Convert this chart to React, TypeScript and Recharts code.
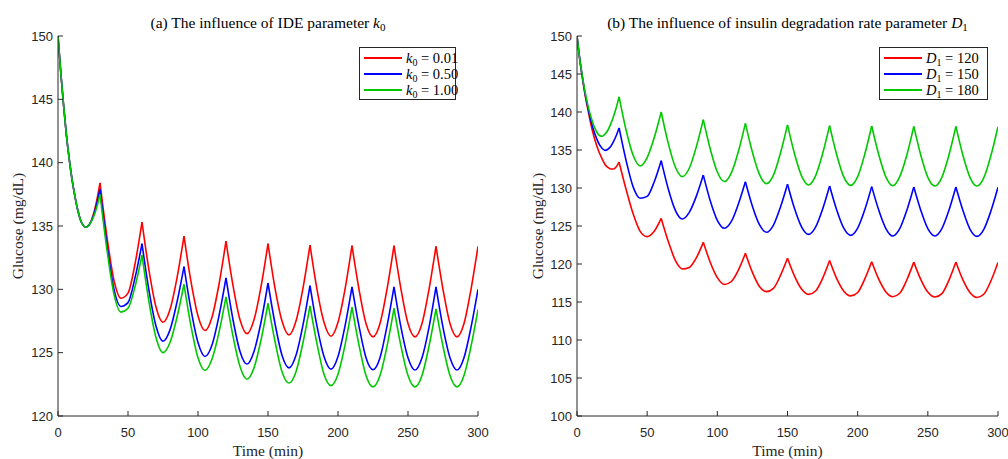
import React from 'react';
import { LineChart, Line, XAxis, YAxis } from 'recharts';

// ---------- data ----------
const TIMES = [
  0, 2, 4, 6, 8, 10, 12, 14, 16, 18, 20, 22, 24, 26, 28, 30,
  35, 40, 45, 50, 55, 60, 65, 70, 75, 80, 85, 90, 95, 100, 105, 110, 115, 120,
  125, 130, 135, 140, 145, 150, 155, 160, 165, 170, 175, 180, 185, 190, 195, 200,
  205, 210, 215, 220, 225, 230, 235, 240, 245, 250, 255, 260, 265, 270, 275, 280,
  285, 290, 295, 300,
];

// (a) k0 variations
const K0_001 = [
  150, 147.1, 144.5, 142.2, 140.3, 138.7, 137.4, 136.3, 135.5, 135.05, 134.9, 135.07, 135.5, 136.2, 137.2, 138.4,
  134.1, 130.7, 129.3, 129.7, 132.0, 135.3,
  131.5, 128.6, 127.4, 128.4, 130.9, 134.2,
  130.6, 127.9, 126.75, 127.8, 130.4, 133.8,
  130.3, 127.6, 126.5, 127.6, 130.2, 133.6,
  130.1, 127.5, 126.4, 127.5, 130.1, 133.5,
  130.0, 127.4, 126.3, 127.4, 130.0, 133.45,
  130.0, 127.3, 126.25, 127.3, 130.0, 133.45,
  130.0, 127.3, 126.25, 127.3, 130.0, 133.4,
  130.0, 127.3, 126.25, 127.3, 130.0, 133.4,
];
const K0_050 = [
  150, 147.1, 144.5, 142.2, 140.3, 138.7, 137.4, 136.3, 135.5, 135.05, 134.9, 135.06, 135.45, 136.05, 136.9, 137.9,
  133.5, 130.0, 128.65, 128.95, 130.9, 133.6,
  129.9, 127.1, 125.9, 126.8, 129.0, 131.8,
  128.4, 125.8, 124.7, 125.6, 127.9, 130.9,
  127.6, 125.1, 124.1, 125.1, 127.4, 130.5,
  127.3, 124.8, 123.8, 124.8, 127.2, 130.3,
  127.1, 124.7, 123.7, 124.7, 127.1, 130.2,
  127.1, 124.6, 123.65, 124.6, 127.1, 130.2,
  127.0, 124.6, 123.63, 124.6, 127.0, 130.2,
  127.0, 124.6, 123.63, 124.6, 127.0, 130.0,
];
const K0_100 = [
  150, 147.1, 144.5, 142.2, 140.3, 138.7, 137.4, 136.3, 135.5, 135.05, 134.9, 135.05, 135.4, 135.9, 136.6, 137.5,
  133.1, 129.6, 128.2, 128.5, 130.2, 132.7,
  129.0, 126.2, 125.0, 125.8, 127.8, 130.4,
  127.1, 124.6, 123.6, 124.5, 126.6, 129.4,
  126.3, 123.9, 122.9, 123.8, 126.0, 128.9,
  125.9, 123.5, 122.6, 123.5, 125.8, 128.7,
  125.7, 123.3, 122.4, 123.3, 125.6, 128.6,
  125.6, 123.2, 122.3, 123.2, 125.5, 128.5,
  125.5, 123.2, 122.3, 123.2, 125.5, 128.45,
  125.5, 123.2, 122.3, 123.2, 125.5, 128.4,
];

// (b) D1 variations
const D1_120 = [
  150, 146.9, 144.3, 142.0, 140.1, 138.3, 136.8, 135.6, 134.6, 133.8, 133.1, 132.7, 132.5, 132.5, 132.8, 133.4,
  129.8, 126.6, 124.3, 123.6, 124.3, 126.0,
  123.0, 120.5, 119.35, 119.55, 120.8, 122.85,
  120.2, 118.2, 117.3, 117.7, 119.2, 121.4,
  118.9, 117.05, 116.37, 116.8, 118.5, 120.75,
  118.4, 116.7, 116.0, 116.45, 118.1, 120.45,
  118.1, 116.45, 115.8, 116.25, 118.0, 120.3,
  118.0, 116.35, 115.7, 116.15, 117.9, 120.25,
  117.95, 116.3, 115.65, 116.1, 117.85, 120.25,
  117.9, 116.25, 115.6, 116.05, 117.8, 120.2,
];
const D1_150 = [
  150, 146.9, 144.4, 142.2, 140.4, 138.8, 137.5, 136.5, 135.7, 135.2, 134.95, 135.1, 135.45, 136.1, 136.9, 137.9,
  133.6, 130.15, 128.65, 128.9, 130.8, 133.6,
  129.9, 127.1, 125.92, 126.8, 128.9, 131.7,
  128.3, 125.75, 124.7, 125.6, 127.9, 130.83,
  127.6, 125.17, 124.17, 125.12, 127.5, 130.5,
  127.3, 124.9, 123.9, 124.85, 127.2, 130.26,
  127.15, 124.75, 123.77, 124.73, 127.1, 130.18,
  127.1, 124.7, 123.68, 124.65, 127.05, 130.13,
  127.05, 124.65, 123.68, 124.65, 127.05, 130.13,
  127.05, 124.6, 123.64, 124.6, 127.0, 130.09,
];
const D1_180 = [
  150, 146.9, 144.5, 142.4, 140.7, 139.3, 138.2, 137.4, 136.9, 136.8, 137.1, 137.6, 138.4, 139.4, 140.6, 142.0,
  137.6, 134.3, 132.9, 134.0, 136.6, 140.0,
  135.9, 132.8, 131.5, 132.6, 135.4, 139.0,
  135.1, 132.1, 130.85, 132.0, 134.8, 138.5,
  134.7, 131.8, 130.57, 131.7, 134.6, 138.3,
  134.5, 131.6, 130.4, 131.6, 134.5, 138.2,
  134.4, 131.5, 130.35, 131.5, 134.4, 138.16,
  134.4, 131.5, 130.3, 131.5, 134.3, 138.1,
  134.3, 131.4, 130.26, 131.4, 134.3, 138.1,
  134.3, 131.4, 130.26, 131.4, 134.3, 138.07,
];

const X_TICKS = [0, 50, 100, 150, 200, 250, 300];
const LEFT_Y_TICKS = [120, 125, 130, 135, 140, 145, 150];
const RIGHT_Y_TICKS = [100, 105, 110, 115, 120, 125, 130, 135, 140, 145, 150];
const MEAL_TIMES = [0, 30, 60, 90, 120, 150, 180, 210, 240, 270, 300];

const LEFT_LABELS = ['0.01', '0.50', '1.00'];
const RIGHT_LABELS = ['120', '150', '180'];
const COLORS = ['#ff0000', '#0000ff', '#00c800'];

const leftData = TIMES.map((t, i) => ({ t, s0: K0_001[i], s1: K0_050[i], s2: K0_100[i] }));
const rightData = TIMES.map((t, i) => ({ t, s0: D1_120[i], s1: D1_150[i], s2: D1_180[i] }));

// ---------- styles ----------
const AX = '#262626';
const SANS = '"Liberation Sans", Arial, Helvetica, sans-serif';
const SERIF = '"Liberation Serif", "Times New Roman", serif';
const tickStyle = { fill: AX, fontSize: 13, fontFamily: SANS };

const segKey = (key: string, lo: number, hi: number) => (d: any) =>
  d.t >= lo && d.t <= hi ? d[key] : null;

function Panel({ data, yDomain, yTicks, width, marginLeft, marginRight }: any) {
  const lines: any[] = [];
  ['s0', 's1', 's2'].forEach((key, si) => {
    for (let k = 0; k < MEAL_TIMES.length - 1; k++) {
      lines.push(
        <Line
          key={key + '-' + k}
          xAxisId="b"
          yAxisId="l"
          dataKey={segKey(key, MEAL_TIMES[k], MEAL_TIMES[k + 1])}
          type="monotone"
          stroke={COLORS[si]}
          strokeWidth={1.6}
          dot={false}
          activeDot={false}
          connectNulls={false}
          isAnimationActive={false}
        />
      );
    }
  });
  return (
    <LineChart
      width={width}
      height={459}
      data={data}
      margin={{ top: 36, right: marginRight, bottom: 0, left: marginLeft }}
    >
      <XAxis
        xAxisId="b"
        type="number"
        dataKey="t"
        domain={[0, 300]}
        ticks={X_TICKS}
        interval={0}
        tickSize={-5}
        tickMargin={17}
        height={43}
        stroke={AX}
        tick={tickStyle}
        allowDataOverflow
      />
      <XAxis
        xAxisId="t"
        orientation="top"
        type="number"
        dataKey="t"
        domain={[0, 300]}
        ticks={X_TICKS}
        interval={0}
        tickSize={-5}
        height={0}
        stroke={AX}
        tick={false}
        allowDataOverflow
      />
      <YAxis
        yAxisId="l"
        type="number"
        domain={yDomain}
        ticks={yTicks}
        interval={0}
        tickSize={-5}
        tickMargin={10}
        width={50}
        stroke={AX}
        tick={tickStyle}
        allowDataOverflow
      />
      <YAxis
        yAxisId="r"
        orientation="right"
        type="number"
        domain={yDomain}
        ticks={yTicks}
        interval={0}
        tickSize={-5}
        width={0}
        stroke={AX}
        tick={false}
        allowDataOverflow
      />
      {lines}
    </LineChart>
  );
}

function Legend({ left, top, width, sym, labels }: any) {
  return (
    <div
      style={{
        position: 'absolute',
        left,
        top,
        width,
        height: 53,
        boxSizing: 'border-box',
        border: '1px solid #262626',
        background: '#fff',
      }}
    >
      {labels.map((lab: string, i: number) => (
        <div
          key={lab}
          style={{
            position: 'absolute',
            left: 4,
            top: 2 + i * 16,
            height: 16,
            display: 'flex',
            alignItems: 'center',
            whiteSpace: 'nowrap',
            fontFamily: SERIF,
            fontSize: 14.5,
            color: '#000',
          }}
        >
          <span
            style={{ display: 'inline-block', width: 38, height: 0, borderTop: `2px solid ${COLORS[i]}`, marginRight: 4 }}
          />
          <span>
            <i>{sym[0]}</i>
            <span style={{ fontSize: 10, position: 'relative', top: 3 }}>{sym[1]}</span>
            {' = ' + lab}
          </span>
        </div>
      ))}
    </div>
  );
}

const textBase: any = { position: 'absolute', fontFamily: SERIF, fontSize: 15.5, color: '#262626', whiteSpace: 'nowrap' };

export default function App() {
  return (
    <div style={{ position: 'absolute', left: 0, top: 0, width: 1008, height: 459, background: '#fff', overflow: 'hidden' }}>
      <div style={{ position: 'absolute', left: 0, top: 0 }}>
        <Panel data={leftData} yDomain={[120, 150]} yTicks={LEFT_Y_TICKS} width={500} marginLeft={8} marginRight={22} />
      </div>
      <div style={{ position: 'absolute', left: 500, top: 0 }}>
        <Panel data={rightData} yDomain={[100, 150]} yTicks={RIGHT_Y_TICKS} width={508} marginLeft={27} marginRight={10} />
      </div>

      {/* titles */}
      <div style={{ ...textBase, left: 268, top: 23, transform: 'translate(-50%,-50%)', color: '#000' }}>
        (a) The influence of IDE parameter <i>k</i>
        <span style={{ fontSize: 11, position: 'relative', top: 3 }}>0</span>
      </div>
      <div style={{ ...textBase, left: 787.5, top: 23, transform: 'translate(-50%,-50%)', color: '#000' }}>
        (b) The influence of insulin degradation rate parameter <i>D</i>
        <span style={{ fontSize: 11, position: 'relative', top: 3 }}>1</span>
      </div>

      {/* x labels */}
      <div style={{ ...textBase, left: 268, top: 451, transform: 'translate(-50%,-50%)' }}>Time (min)</div>
      <div style={{ ...textBase, left: 787.5, top: 451, transform: 'translate(-50%,-50%)' }}>Time (min)</div>

      {/* y labels */}
      <div style={{ ...textBase, left: 18, top: 226, transform: 'translate(-50%,-50%) rotate(-90deg)' }}>Glucose (mg/dL)</div>
      <div style={{ ...textBase, left: 538, top: 226, transform: 'translate(-50%,-50%) rotate(-90deg)' }}>Glucose (mg/dL)</div>

      <Legend left={359} top={47} width={97} sym={['k', '0']} labels={LEFT_LABELS} />
      <Legend left={879} top={47} width={109} sym={['D', '1']} labels={RIGHT_LABELS} />
    </div>
  );
}
